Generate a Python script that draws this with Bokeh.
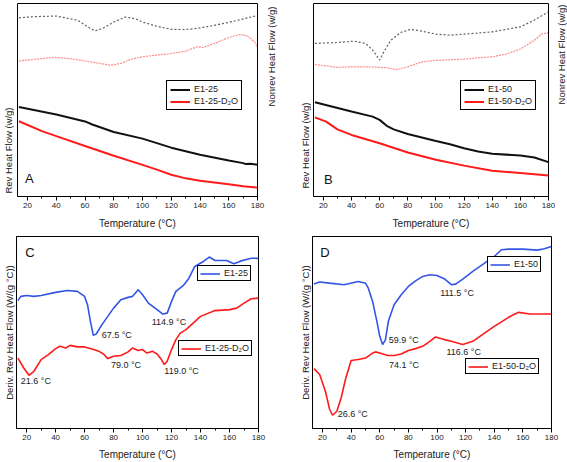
from bokeh.plotting import figure
from bokeh.models import Range1d, FixedTicker, Legend, LegendItem, Label, ColumnDataSource
from bokeh.layouts import column, row
from bokeh.embed import file_html
from bokeh.resources import INLINE
from bokeh.core.properties import value
import math

FONT = "Liberation Sans"

# ---------------- data (arbitrary heat-flow units, 0-100 of panel height) -------------
x_ticks = [20, 40, 60, 80, 100, 120, 140, 160, 180]
x_minor = [30, 50, 70, 90, 110, 130, 150, 170]

# Panel A
A_nonrev_x = [14, 25, 40, 55, 62, 67, 72, 80, 88, 95, 100, 110, 120, 130, 140, 150, 160, 170, 180]
A_nonrev_y = [92.6, 93.2, 93.5, 91.3, 87.8, 85.8, 87.0, 90.4, 93.0, 92.1, 90.4, 88.2, 86.6, 86.5, 87.3, 88.7, 90.2, 92.0, 93.8]
A_nonrev_d2o_x = [14, 25, 38, 50, 60, 70, 78, 85, 92, 100, 110, 120, 130, 138, 142, 150, 160, 168, 173, 178, 180]
A_nonrev_d2o_y = [70.2, 71.1, 72.1, 71.4, 70.2, 69.0, 68.0, 69.0, 71.1, 72.4, 73.3, 74.1, 75.3, 77.6, 77.2, 79.3, 82.4, 83.9, 83.2, 80.1, 77.1]
A_rev_x = [14, 40, 60, 65, 80, 100, 120, 140, 160, 170, 172, 175, 180]
A_rev_y = [46.4, 42.5, 38.9, 37.3, 33.4, 30.0, 25.3, 21.6, 18.7, 17.3, 16.8, 17.0, 16.4]
A_rev_d2o_x = [14, 30, 40, 60, 80, 100, 110, 120, 130, 140, 160, 170, 180]
A_rev_d2o_y = [39.0, 33.9, 31.3, 26.2, 21.1, 16.4, 13.9, 11.3, 9.4, 8.2, 6.3, 5.3, 4.6]

# Panel B
B_nonrev_x = [14, 30, 42, 50, 55, 60, 63, 68, 75, 82, 90, 100, 110, 120, 140, 160, 170, 180]
B_nonrev_y = [79.3, 79.8, 80.5, 79.3, 75.9, 70.7, 75.0, 81.0, 85.0, 86.6, 85.7, 84.1, 83.6, 84.1, 85.3, 87.9, 91.4, 95.7]
B_nonrev_d2o_x = [14, 30, 40, 55, 65, 72, 80, 90, 100, 120, 140, 150, 160, 170, 175, 180]
B_nonrev_d2o_y = [68.4, 66.9, 67.2, 67.1, 66.7, 65.7, 67.2, 69.8, 70.5, 71.2, 72.4, 73.8, 76.4, 81.0, 84.1, 85.0]
B_rev_x = [14, 40, 55, 60, 65, 70, 80, 100, 110, 120, 130, 140, 160, 170, 180]
B_rev_y = [48.8, 44.0, 41.4, 39.7, 36.6, 34.8, 32.4, 28.8, 27.1, 25.0, 23.3, 22.2, 21.2, 20.2, 17.8]
B_rev_d2o_x = [14, 22, 30, 40, 60, 80, 100, 120, 140, 160, 180]
B_rev_d2o_y = [41.0, 38.8, 34.8, 31.9, 27.6, 22.8, 19.0, 16.0, 13.3, 12.2, 10.9]

# Panel C (derivative)
C_x = [14, 16, 20, 25, 30, 40, 48, 55, 60, 62, 64, 66, 68, 72, 80, 85, 90, 93, 97, 100, 104,
       110, 114, 117, 120, 123, 128, 132, 136, 142, 146, 150, 158, 163, 168, 175, 180]
C_y = [66.6, 68.8, 69.3, 68.8, 69.3, 70.9, 71.9, 71.4, 68.8, 64.5, 55.8, 48.5, 49.2, 54.1, 62.7, 67.1,
       68.3, 68.8, 72.3, 69.7, 65.3, 61.9, 59.6, 60.1, 66.2, 71.4, 74.4, 78.3, 84.4, 87.0, 89.3, 87.5,
       87.5, 85.8, 87.3, 88.7, 88.6]
C_d2o_x = [14, 18, 21.6, 25, 30, 35, 40, 43, 47, 50, 55, 60, 65, 70, 73, 76, 80, 85, 90, 93, 97, 100,
           103, 107, 110, 113, 115, 117, 120, 123, 126, 130, 140, 150, 160, 165, 170, 175, 180]
C_d2o_y = [36.7, 31.5, 27.7, 29.8, 35.9, 38.5, 41.6, 42.8, 41.9, 43.3, 42.5, 42.5, 41.4, 40.2, 38.8,
           36.4, 37.6, 38.0, 39.9, 41.9, 40.6, 41.1, 39.3, 40.2, 38.8, 35.9, 33.3, 35.0, 41.1, 46.3,
           49.7, 51.5, 58.4, 61.4, 61.9, 62.7, 65.3, 67.6, 67.9]
C_ann_text = ["67.5 °C", "114.9 °C", "79.0 °C", "119.0 °C", "21.6 °C"]
C_ann_x = [71.8, 106.3, 78.2, 115.0, 16.0]
C_ann_y = [48.5, 55.5, 33.3, 29.8, 24.6]

# Panel D (derivative)
D_x = [14, 18, 25, 35, 45, 50, 52, 55, 58, 60, 62, 64, 66, 70, 75, 80, 85, 90, 95, 100, 105, 110,
       113, 118, 125, 135, 140, 145, 150, 160, 170, 175, 180]
D_y = [75.2, 76.3, 75.7, 74.9, 76.6, 75.7, 73.1, 66.2, 55.8, 48.0, 43.7, 46.3, 55.8, 64.5, 69.7, 74.0,
       76.9, 79.2, 80.1, 79.7, 78.0, 74.9, 75.2, 77.8, 81.8, 87.0, 89.6, 93.1, 93.4, 93.4, 92.9, 93.6, 94.8]
D_d2o_x = [14, 18, 22, 25, 27, 30, 33, 36, 40, 45, 50, 55, 57, 60, 65, 70, 75, 80, 85, 90, 95, 99,
           105, 110, 118, 125, 130, 140, 150, 157, 165, 180]
D_d2o_y = [31.2, 28.1, 19.4, 9.9, 6.9, 9.0, 15.9, 25.5, 35.4, 35.9, 36.7, 39.3, 39.9, 39.3, 38.1, 38.0,
           38.8, 40.6, 41.6, 42.8, 45.4, 47.7, 46.3, 45.4, 43.7, 45.4, 48.0, 53.2, 57.9, 60.5, 59.6, 59.6]
D_ann_text = ["59.9 °C", "111.5 °C", "74.1 °C", "116.6 °C", "26.6 °C"]
D_ann_x = [66.2, 102.2, 66.4, 106.6, 30.6]
D_ann_y = [46.3, 70.5, 33.3, 39.9, 7.3]

# ---------------- styling helpers ----------------
BLACK = "#111111"
RED = "#ff1a1a"
BLUE = "#3355e6"
TXT = "#222222"
ROW1_H = 232
ROW2_H = 230
R1_TOP = 3      # top border of first-row frames
R1_BOT = 36     # bottom border of first-row frames


def style_xaxis(p, standoff):
    xa = p.xaxis[0]
    xa.ticker = FixedTicker(ticks=x_ticks, minor_ticks=x_minor)
    xa.axis_label = "Temperature (°C)"
    xa.axis_label_text_font = FONT
    xa.axis_label_text_font_style = "normal"
    xa.axis_label_text_font_size = "10px"
    xa.axis_label_text_color = TXT
    xa.axis_label_standoff = standoff
    xa.major_label_text_font = FONT
    xa.major_label_text_font_size = "8px"
    xa.major_label_text_color = TXT
    xa.major_label_standoff = 2
    xa.major_tick_out = 4
    xa.major_tick_in = 0
    xa.minor_tick_out = 2
    xa.minor_tick_in = 0
    xa.axis_line_color = "black"
    xa.major_tick_line_color = "black"
    xa.minor_tick_line_color = "black"


def base_fig(width, height, bl, br, bt, bb, ylabel=None, nonrev=False, standoff=7):
    kw = {}
    if ylabel is None:
        kw["y_axis_location"] = None
    p = figure(width=width, height=height, x_range=Range1d(13, 180), y_range=Range1d(0, 100),
               output_backend="svg", toolbar_location=None,
               min_border_left=bl, min_border_right=br, min_border_top=bt, min_border_bottom=bb, **kw)
    if nonrev:
        p.extra_y_ranges = {"nonrev": Range1d(0, 100)}
    p.grid.visible = False
    p.outline_line_color = "black"
    p.outline_line_alpha = 1
    p.outline_line_width = 1
    p.background_fill_color = "white"
    p.border_fill_color = "white"
    style_xaxis(p, standoff)
    if ylabel is not None:
        ya = p.yaxis[0]
        ya.ticker = FixedTicker(ticks=[])
        ya.major_tick_out = 0
        ya.major_tick_in = 0
        ya.minor_tick_out = 0
        ya.minor_tick_in = 0
        ya.major_label_text_font_size = "0px"
        ya.axis_label = ylabel
        ya.axis_label_text_font = FONT
        ya.axis_label_text_font_style = "normal"
        ya.axis_label_text_font_size = "9.5px"
        ya.axis_label_text_color = TXT
        ya.axis_label_standoff = 2
        ya.axis_line_color = "black"
    return p


def label_fig(width, texts, xs, ys):
    """Narrow axis-less strip for the vertical titles of the first row.
    Its frame matches the first-row frames, so y is given in page pixels from the top."""
    p = figure(width=width, height=ROW1_H, x_range=Range1d(0, width),
               y_range=Range1d(ROW1_H - R1_BOT, R1_TOP),
               output_backend="svg", toolbar_location=None, x_axis_location=None, y_axis_location=None,
               min_border_left=0, min_border_right=0, min_border_top=R1_TOP, min_border_bottom=R1_BOT)
    p.outline_line_color = None
    p.grid.visible = False
    p.background_fill_color = "white"
    p.border_fill_color = "white"
    src = ColumnDataSource(dict(x=xs, y=ys, t=texts))
    p.text(x="x", y="y", text="t", source=src, angle=math.pi / 2, text_font=value(FONT),
           text_font_size="9.5px", text_color=TXT, text_align="center", text_baseline="middle")
    return p


def style_legend(lg, loc, padding=3):
    lg.location = loc
    lg.border_line_color = "black"
    lg.border_line_width = 1
    lg.border_line_alpha = 1
    lg.background_fill_color = "white"
    lg.background_fill_alpha = 1
    lg.label_text_font = FONT
    lg.label_text_font_size = "9px"
    lg.label_text_color = TXT
    lg.glyph_width = 20
    lg.glyph_height = 9
    lg.label_height = 9
    lg.label_standoff = 4
    lg.padding = padding
    lg.spacing = 2
    lg.margin = 0


def letter(p, text, x, y):
    p.add_layout(Label(x=x, y=y, text=text, text_font=FONT, text_font_size="13px",
                       text_color="#111111", text_baseline="middle", text_align="left"))


def annotations(p, xs, ys, texts):
    src = ColumnDataSource(dict(x=xs, y=ys, t=texts))
    p.text(x="x", y="y", text="t", source=src, text_font=value(FONT), text_font_size="9px",
           text_color=TXT, text_baseline="middle", text_align="left")


# ---------------- Panel A ----------------
pA = base_fig(251, ROW1_H, 3, 8, R1_TOP, R1_BOT, nonrev=True)
pA.line(A_nonrev_x, A_nonrev_y, y_range_name="nonrev", line_color="#444444", line_width=1.2,
        line_dash="2 2", line_alpha=0.85)
pA.line(A_nonrev_d2o_x, A_nonrev_d2o_y, y_range_name="nonrev", line_color=RED, line_width=1.2,
        line_dash="2 1", line_alpha=0.5)
rA1 = pA.line(A_rev_x, A_rev_y, line_color=BLACK, line_width=2)
rA2 = pA.line(A_rev_d2o_x, A_rev_d2o_y, line_color=RED, line_width=2)
lgA = Legend(items=[LegendItem(label="E1-25", renderers=[rA1]),
                    LegendItem(label="E1-25-D₂O", renderers=[rA2])])
style_legend(lgA, (149, 86))
pA.add_layout(lgA)
letter(pA, "A", 18.3, 9.1)

# ---------------- Panel B ----------------
pB = base_fig(244, ROW1_H, 2, 7, R1_TOP, R1_BOT, nonrev=True)
pB.line(B_nonrev_x, B_nonrev_y, y_range_name="nonrev", line_color="#444444", line_width=1.2,
        line_dash="2 2", line_alpha=0.85)
pB.line(B_nonrev_d2o_x, B_nonrev_d2o_y, y_range_name="nonrev", line_color=RED, line_width=1.2,
        line_dash="2 1", line_alpha=0.5)
rB1 = pB.line(B_rev_x, B_rev_y, line_color=BLACK, line_width=2)
rB2 = pB.line(B_rev_d2o_x, B_rev_d2o_y, line_color=RED, line_width=2)
lgB = Legend(items=[LegendItem(label="E1-50", renderers=[rB1]),
                    LegendItem(label="E1-50-D₂O", renderers=[rB2])])
style_legend(lgB, (147, 86))
pB.add_layout(lgB)
letter(pB, "B", 20.5, 8.6)

# vertical titles of the top row (strips: 0-14, 265-311, 555-567)
lblAL = label_fig(14, ["Rev Heat Flow (w/g)"], [8], [150])
lblMid = label_fig(46, ["Nonrev Heat Flow (w/g)", "Rev Heat Flow (w/g)"], [6, 40], [56, 145])
lblBR = label_fig(12, ["Nonrev Heat Flow (w/g)"], [6], [54])

# ---------------- Panel C ----------------
pC = base_fig(285, ROW2_H, 16, 27, 4, 33, "Deriv. Rev Heat Flow (W/(g °C))", standoff=6)
rC1 = pC.line(C_x, C_y, line_color=BLUE, line_width=1.6)
rC2 = pC.line(C_d2o_x, C_d2o_y, line_color=RED, line_width=1.6)
lgC1 = Legend(items=[LegendItem(label="E1-25", renderers=[rC1])])
style_legend(lgC1, (181, 147), padding=2)
lgC2 = Legend(items=[LegendItem(label="E1-25-D₂O", renderers=[rC2])])
style_legend(lgC2, (162, 72), padding=2)
pC.add_layout(lgC1)
pC.add_layout(lgC2)
annotations(pC, C_ann_x, C_ann_y, C_ann_text)
letter(pC, "C", 19.0, 91.7)

# ---------------- Panel D ----------------
pD = base_fig(282, ROW2_H, 27, 16, 4, 33, "Deriv. Rev Heat Flow (W/(g °C))", standoff=6)
rD1 = pD.line(D_x, D_y, line_color=BLUE, line_width=1.6)
rD2 = pD.line(D_d2o_x, D_d2o_y, line_color=RED, line_width=1.6)
lgD1 = Legend(items=[LegendItem(label="E1-50", renderers=[rD1])])
style_legend(lgD1, (175, 156), padding=2)
lgD2 = Legend(items=[LegendItem(label="E1-50-D₂O", renderers=[rD2])])
style_legend(lgD2, (153, 54), padding=2)
pD.add_layout(lgD1)
pD.add_layout(lgD2)
annotations(pD, D_ann_x, D_ann_y, D_ann_text)
letter(pD, "D", 18.5, 91.9)

layout = column(row(lblAL, pA, lblMid, pB, lblBR), row(pC, pD))
open("out.html", "w").write(file_html(layout, INLINE))
